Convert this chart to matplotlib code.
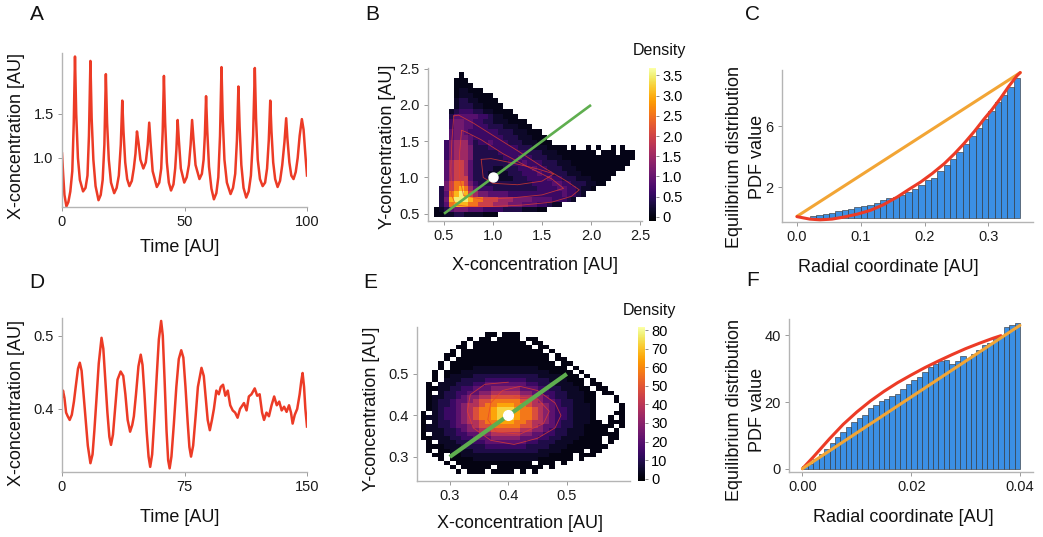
#!/usr/bin/env python3
"""Six-panel oscillator figure: time traces, phase-plane densities, radial PDFs."""
import numpy as np
import matplotlib
matplotlib.use('Agg')
import matplotlib.pyplot as plt

W, H = 1043, 537

RED = '#ec3b26'
ORANGE = '#f2a535'
GREEN = '#5fae4f'
BLUE = '#3b8fe4'
SPINE = '#b4b4b4'

# ---- panel A: X trace, limit-cycle regime ----
a_time = [0, 0.5, 1.0, 1.8, 2.6, 3.4, 4.2, 4.8, 5.3, 5.8, 6.5, 7.3, 8.6, 9.6, 10.4, 11.0,
          11.6, 12.1, 12.8, 13.7, 14.9, 15.8, 16.6, 17.3, 17.9, 18.4, 19.1, 20.0, 21.3,
          22.3, 23.2, 24.0, 24.6, 25.1, 25.8, 26.6, 27.5, 28.5, 29.3, 30.0, 30.6, 31.2,
          32.0, 33.2, 34.2, 35.0, 35.6, 36.2, 37.0, 38.7, 39.7, 40.5, 41.1, 41.6, 42.1,
          42.8, 43.6, 44.5, 45.5, 46.2, 46.7, 47.2, 47.7, 48.5, 49.9, 50.9, 51.8, 52.5,
          53.1, 53.7, 54.5, 56.1, 57.1, 57.8, 58.3, 58.8, 59.3, 60.0, 61.0, 62.0, 63.0,
          63.8, 64.5, 65.1, 65.6, 66.3, 67.3, 68.8, 69.8, 70.7, 71.4, 72.0, 72.5, 73.2,
          74.1, 75.2, 76.2, 77.1, 78.0, 78.7, 79.2, 79.9, 80.8, 81.9, 82.9, 83.7, 84.4,
          85.0, 85.5, 86.2, 87.0, 88.0, 89.0, 89.9, 90.8, 91.5, 92.0, 92.8, 93.6, 94.5,
          95.4, 96.2, 97.0, 97.9, 98.6, 99.3, 100]
a_conc = [1.05, 0.80, 0.58, 0.45, 0.50, 0.62, 0.85, 1.40, 2.15, 1.50, 1.00, 0.75, 0.62, 0.66, 0.80, 1.25,
          2.10, 1.45, 0.98, 0.68, 0.52, 0.58, 0.75, 1.15, 1.95, 1.40, 0.98, 0.72, 0.60,
          0.66, 0.80, 1.15, 1.65, 1.30, 0.95, 0.76, 0.68, 0.74, 0.88, 1.05, 1.30, 1.18,
          0.98, 0.88, 0.95, 1.15, 1.40, 1.15, 0.85, 0.67, 0.72, 0.88, 1.30, 1.93, 1.40,
          0.95, 0.72, 0.63, 0.70, 0.88, 1.10, 1.43, 1.20, 0.88, 0.72, 0.78, 0.92, 1.15,
          1.43, 1.20, 0.92, 0.76, 0.82, 0.98, 1.25, 1.70, 1.30, 0.90, 0.65, 0.53, 0.60,
          0.78, 1.25, 2.03, 1.45, 0.98, 0.72, 0.59, 0.66, 0.82, 1.20, 1.81, 1.35, 0.92,
          0.66, 0.55, 0.62, 0.80, 1.25, 2.02, 1.45, 0.98, 0.76, 0.68, 0.72, 0.88, 1.20,
          1.65, 1.30, 0.95, 0.76, 0.67, 0.74, 0.92, 1.18, 1.45, 1.22, 0.95, 0.80, 0.76,
          0.84, 1.00, 1.25, 1.44, 1.32, 1.05, 0.80]

# ---- panel D: X trace, noisy damped regime ----
d_time = [0, 0.6, 1.5, 2.5, 3.5, 4.7, 6.0, 7.3, 8.5, 9.8, 10.9, 12.0, 13.2, 14.5, 15.8,
          17.4, 18.7, 19.8, 21.0, 22.5, 24.2, 25.3, 26.5, 27.8, 29.0, 30.0, 31.2, 32.5,
          34.0, 35.9, 37.5, 38.8, 40.2, 41.7, 43.0, 44.0, 45.3, 46.8, 48.2, 49.3, 50.5,
          51.8, 53.0, 54.0, 55.2, 56.5, 58.0, 59.3, 60.7, 61.7, 62.8, 64.0, 65.0, 65.9,
          67.0, 68.5, 70.0, 71.5, 73.0, 74.3, 75.6, 77.0, 78.0, 79.0, 80.3, 81.8, 83.2,
          85.4, 86.8, 88.0, 89.2, 90.5, 91.8, 93.0, 94.5, 96.0, 97.2, 98.6, 100.0, 101.5,
          103.0, 104.5, 106.0, 107.5, 109.0, 111.4, 113.0, 114.4, 116.0, 118.0, 119.5,
          121.0, 122.5, 123.7, 125.2, 126.7, 128.3, 129.9, 131.5, 133.0, 134.5, 136.0,
          137.5, 139.0, 140.2, 141.2, 142.5, 144.0, 145.5, 146.5, 147.3, 148.2, 149.0, 150.0]
d_conc = [0.417, 0.425, 0.415, 0.395, 0.390, 0.385, 0.392, 0.410, 0.432, 0.455, 0.463, 0.452, 0.420, 0.385, 0.350,
          0.326, 0.338, 0.370, 0.410, 0.462, 0.497, 0.482, 0.440, 0.395, 0.362, 0.351, 0.365, 0.400,
          0.440, 0.451, 0.445, 0.420, 0.385, 0.369, 0.378, 0.390, 0.420, 0.458, 0.474, 0.460, 0.420,
          0.370, 0.335, 0.321, 0.338, 0.385, 0.445, 0.495, 0.520, 0.500, 0.440, 0.370, 0.330, 0.319,
          0.335, 0.380, 0.430, 0.468, 0.480, 0.470, 0.430, 0.380, 0.348, 0.335, 0.350, 0.390, 0.430,
          0.456, 0.445, 0.415, 0.385, 0.371, 0.385, 0.400, 0.425, 0.420, 0.430, 0.433, 0.418, 0.425,
          0.405, 0.398, 0.395, 0.388, 0.400, 0.408, 0.398, 0.417, 0.420, 0.428, 0.418,
          0.420, 0.395, 0.385, 0.395, 0.390, 0.405, 0.417, 0.405, 0.410, 0.398, 0.403,
          0.396, 0.405, 0.395, 0.380, 0.392, 0.400, 0.420, 0.438, 0.449, 0.430, 0.400, 0.376]

# ---- panel B: 2D histogram, rows top -> bottom, 41 x-bins on 0.40..2.45, 28 y-bins on 0.45..2.45
b_rows = [
    "..... 0.... ..... ..... ..... ..... ..... ..... .",
    "....0 00... ..... ..... ..... ..... ..... ..... .",
    "....0 000.. ..... ..... ..... ..... ..... ..... .",
    "....0 11000 ..... ..... ..... ..... ..... ..... .",
    "....0 11100 00... ..... ..... ..... ..... ..... .",
    "....1 22110 000.. ..... ..... ..... ..... ..... .",
    "....1 22211 0000. ..... ..... ..... ..... ..... .",
    "...12 33322 11000 0.... ..... ..... ..... ..... .",
    "...24 44443 32110 00... ..... ..... ..... ..... .",
    "...35 54433 22111 0000. ..... ..... ..... ..... .",
    "...35 54433 32221 11000 ..... ..... ..... ..... .",
    "...45 54333 33322 21110 00... ..... ..... ..... .",
    "...45 55433 33332 22111 000.. ..... ..... ..... .",
    "..356 66423 34333 22211 1000. ..... ..... ..... .",
    "..356 66522 23333 33222 11100 00.0. .0.0. .0.0. .",
    "..356 66522 22233 33332 22111 00000 000.0 00.00 0",
    "..356 66522 22223 33433 22211 10000 00000 00000 0",
    "..467 76422 22222 33343 33222 11100 00000 00000 .",
    "..467 76422 22112 22333 43322 21110 00000 0000. .",
    "..467 76422 21111 22233 34332 22111 00000 00... .",
    "..467 77422 21111 12223 33343 32221 11000 0.... .",
    "..578 87532 22222 22222 33334 43322 21100 ..... .",
    ".2578 98643 33222 22222 23333 44332 110.. ..... .",
    ".2489 A9765 54444 33333 33333 34332 1.... ..... .",
    ".259A AA988 77766 65555 44443 3321. ..... ..... .",
    ".2489 99887 77666 55544 43321 1.... ..... ..... .",
    "01245 55444 33332 22211 100.. ..... ..... ..... .",
    "00112 21111 000.. ..... ..... ..... ..... ..... .",
]
b_levels = {'0': 0.05, '1': 0.18, '2': 0.38, '3': 0.6, '4': 0.85, '5': 1.1,
            '6': 1.5, '7': 1.95, '8': 2.5, '9': 3.05, 'A': 3.5}
b_xrange = (0.40, 2.45)
b_yrange = (0.45, 2.45)
b_loops_x = [
    [0.60, 0.58, 0.57, 0.58, 0.62, 0.75, 1.00, 1.30, 1.60, 1.80, 1.88, 1.75, 1.50, 1.25, 1.00, 0.80, 0.65, 0.60],
    [0.68, 0.66, 0.66, 0.70, 0.90, 1.20, 1.50, 1.72, 1.60, 1.35, 1.10, 0.88, 0.72, 0.68],
    [0.88, 0.90, 1.00, 1.25, 1.50, 1.62, 1.45, 1.20, 0.98, 0.88],
]
b_loops_y = [
    [1.85, 1.50, 1.10, 0.75, 0.62, 0.60, 0.60, 0.62, 0.66, 0.74, 0.83, 0.95, 1.15, 1.37, 1.58, 1.75, 1.86, 1.85],
    [1.65, 1.35, 1.00, 0.75, 0.70, 0.72, 0.76, 0.85, 0.98, 1.15, 1.33, 1.52, 1.63, 1.65],
    [1.25, 1.00, 0.92, 0.90, 0.95, 1.05, 1.12, 1.20, 1.26, 1.25],
]

# ---- panel E: 2D histogram, rows top -> bottom, 35 x-bins on 0.25..0.60, 34 y-bins on 0.26..0.60
e_rows = [
    "..... ..... .00.0 00... ..... ..... .....",
    "..... ...0. 00.00 00.00 ..... ..... .....",
    "..... ..0.0 00000 000.0 0.... ..... .....",
    "..... .00.0 00000 0000. 00... ..... .....",
    "..... 0.000 00000 00000 0.0.. ..... .....",
    "....0 0.000 00000 00000 00.0. ..... .....",
    "....0 .0000 00000 00000 00.00 ..... .....",
    "...0. 00000 00000 00000 000.0 0.... .....",
    "...0. 00001 11111 11111 00000 .0... .....",
    "..0.0 00111 11111 11111 11000 0.0.. .....",
    "..0.0 11112 22222 22222 11110 00.0. .....",
    "..0.1 11222 23333 33322 22111 000.0 .....",
    ".0.11 12223 34444 44433 22211 100.0 0....",
    ".0011 22334 44555 55444 33221 1100. 00...",
    ".0.12 23344 55666 66554 43322 11100 .00..",
    ".0112 23455 66777 77665 54322 11100 ...0.",
    ".0122 34456 77888 88776 54432 21100 ...0.",
    ".0122 34566 78899 98876 65432 21110 ....0",
    ".0123 34567 889AA A9887 65433 21110 ....0",
    "0.123 34567 889AA A9887 65433 21110 ...00",
    "01123 34567 889AA A9887 65433 21110 ..0.0",
    "0.122 34566 78899 98876 65432 21110 0.000",
    "01122 34456 77888 88776 54432 21100 000.0",
    "01112 23455 66777 77665 54322 11100 00.0.",
    "0.112 23344 55666 66554 43322 11100 0000.",
    "00111 22334 44555 55444 33221 11000 0.00.",
    ".0.11 12223 34444 44433 22211 10000 0.0..",
    ".0001 11222 23333 33322 22111 00000 00...",
    ".0.00 11112 22222 22222 11110 000.0 0....",
    "..00. 00111 11111 11111 11000 0.000 .....",
    "...0. 00001 11111 11111 00000 0.0.. .....",
    "....0 .0000 00000 0000. 000.0 ..... .....",
    "..... 0.000 00.00 00000 0.0.. ..... .....",
    "..... .0.00 0.000 0.0.0 ..... ..... .....",
]
e_levels = {'0': 1.5, '1': 4.5, '2': 9, '3': 14, '4': 21, '5': 29,
            '6': 38, '7': 48, '8': 57, '9': 65, 'A': 73}
e_xrange = (0.25, 0.60)
e_yrange = (0.26, 0.60)
e_loop_x = [0.40, 0.36, 0.335, 0.33, 0.34, 0.37, 0.41, 0.45, 0.48, 0.49, 0.48, 0.45,
            0.42, 0.39, 0.37, 0.365, 0.38, 0.42, 0.46, 0.47, 0.45, 0.41]
e_loop_y = [0.48, 0.475, 0.45, 0.41, 0.37, 0.34, 0.33, 0.345, 0.37, 0.40, 0.43, 0.46,
            0.47, 0.46, 0.43, 0.39, 0.36, 0.355, 0.38, 0.41, 0.44, 0.445]

# ---- panel C: radial PDF, limit cycle ----
c_heights = [0.13, 0.21, 0.28, 0.35, 0.43, 0.49, 0.58, 0.68, 0.77, 0.87, 0.98, 1.17,
             1.28, 1.38, 1.50, 1.66, 1.86, 2.15, 2.45, 2.60, 3.07, 3.44, 3.86, 4.31,
             4.80, 5.35, 5.90, 6.45, 7.00, 7.55, 8.05, 8.55, 9.15]
c_edges = np.round(np.arange(0.02, 0.3501, 0.01), 3)
c_fit_r = [0, 0.02, 0.036, 0.055, 0.073, 0.095, 0.115, 0.135, 0.157, 0.175, 0.194,
           0.212, 0.231, 0.247, 0.262, 0.278, 0.293, 0.306, 0.319, 0.332, 0.345, 0.35]
c_fit_p = [0.08, -0.08, -0.13, -0.08, 0.05, 0.25, 0.49, 0.85, 1.36, 1.85, 2.35,
           2.90, 3.55, 4.20, 4.87, 5.65, 6.45, 7.10, 7.82, 8.60, 9.30, 9.50]
c_lin_r = [0.0, 0.35]
c_lin_p = [0.1, 9.5]

# ---- panel F: radial PDF, noisy focus ----
f_heights = [0.7, 1.5, 2.9, 4.5, 6.0, 7.7, 9.5, 11.0, 12.5, 14.0, 15.2, 16.2, 18.2,
             19.2, 20.2, 20.9, 21.7, 22.5, 23.9, 25.5, 26.7, 27.4, 28.9, 30.5, 31.4,
             32.2, 32.7, 31.5, 32.2, 33.7, 32.9, 34.5, 35.5, 37.0, 37.7, 39.2, 40.2,
             42.5, 43.2, 43.7]
f_edges = np.round(np.arange(0.0, 0.04001, 0.001), 4)
f_fit_r = [0, 0.002, 0.005, 0.0075, 0.01, 0.0125, 0.015, 0.0175, 0.02, 0.0225,
           0.025, 0.0275, 0.03, 0.0325, 0.035, 0.0365]
f_fit_p = [0, 3.5, 9.0, 13.3, 17.0, 20.3, 23.2, 25.8, 28.1, 30.3, 32.3, 34.2,
           36.0, 37.6, 39.1, 39.9]
f_lin_r = [0.0, 0.04]
f_lin_p = [0.0, 43.0]


def add_axes(fig, l, t, r, b):
    return fig.add_axes([l / W, 1 - b / H, (r - l) / W, (b - t) / H])


def put(fig, x, y, s, **kw):
    kw.setdefault('ha', 'center')
    kw.setdefault('va', 'center')
    fig.text(x / W, 1 - y / H, s, **kw)


def style(ax):
    for side in ('top', 'right'):
        ax.spines[side].set_visible(False)
    for side in ('left', 'bottom'):
        ax.spines[side].set_color(SPINE)
        ax.spines[side].set_linewidth(1.0)
    ax.tick_params(direction='out', length=3, width=0.7, color='#9a9a9a',
                   labelsize=10.5, labelcolor='#1a1a1a', pad=3)


def grid(rows, levels):
    arr = np.array([[levels.get(ch, np.nan) for ch in r.replace(' ', '')] for r in rows])
    return np.ma.masked_invalid(arr[::-1])


def density_panel(fig, rect, cbrect, rows, levels, xr, yr, vlim, cticks, clabels):
    ax = add_axes(fig, *rect)
    z = grid(rows, levels)
    xe = np.linspace(xr[0], xr[1], z.shape[1] + 1)
    ye = np.linspace(yr[0], yr[1], z.shape[0] + 1)
    mesh = ax.pcolormesh(xe, ye, z, cmap='inferno', vmin=vlim[0], vmax=vlim[1],
                         shading='flat', edgecolors='none', antialiased=False)
    cax = add_axes(fig, *cbrect)
    cb = fig.colorbar(mesh, cax=cax, ticks=cticks)
    cb.set_ticklabels(clabels)
    cb.outline.set_visible(False)
    cax.tick_params(labelsize=10.5, length=2.5, width=0.6, color='#777777', pad=2)
    return ax


def main():
    plt.rcParams.update({
        'font.family': ['Liberation Sans', 'DejaVu Sans'],
        'font.size': 10.5,
    })
    fig = plt.figure(figsize=(W / 100, H / 100), dpi=100)
    lab = dict(fontsize=13, color='#111111')

    # A
    ax = add_axes(fig, 62, 53, 307, 207)
    ax.plot(a_time, a_conc, color=RED, lw=1.8)
    ax.set_xlim(0, 100)
    ax.set_ylim(0.443, 2.19)
    ax.set_xticks([0, 50, 100])
    ax.set_yticks([1.0, 1.5])
    ax.set_yticklabels(['1.0', '1.5'])
    style(ax)
    put(fig, 180, 248, 'Time [AU]', **lab)
    put(fig, 17, 136, 'X-concentration [AU]', rotation=90, **lab)

    # D
    ax = add_axes(fig, 62, 318, 307, 472)
    ax.plot(d_time, d_conc, color=RED, lw=1.8)
    ax.set_xlim(0, 150)
    ax.set_ylim(0.314, 0.524)
    ax.set_xticks([0, 75, 150])
    ax.set_yticks([0.4, 0.5])
    ax.set_yticklabels(['0.4', '0.5'])
    style(ax)
    put(fig, 180, 517, 'Time [AU]', **lab)
    put(fig, 17, 403, 'X-concentration [AU]', rotation=90, **lab)

    # B
    ax = density_panel(fig, (428, 68, 642, 221), (649, 68, 656, 221), b_rows, b_levels,
                       b_xrange, b_yrange, (-0.1, 3.68),
                       [0, 0.5, 1.0, 1.5, 2.0, 2.5, 3.0, 3.5],
                       ['0', '0.5', '1.0', '1.5', '2.0', '2.5', '3.0', '3.5'])
    for lx, ly in zip(b_loops_x, b_loops_y):
        ax.plot(lx, ly, color='#e8402c', lw=0.6, alpha=0.75, zorder=3)
    ax.plot([0.5, 2.0], [0.5, 2.0], color=GREEN, lw=1.9, zorder=4, solid_capstyle='butt')
    ax.plot([1.0], [1.0], 'o', ms=6.5, color='white', mec='white', zorder=5)
    ax.set_xlim(0.337, 2.52)
    ax.set_ylim(0.40, 2.51)
    ax.set_xticks([0.5, 1.0, 1.5, 2.0, 2.5])
    ax.set_xticklabels(['0.5', '1.0', '1.5', '2.0', '2.5'])
    ax.set_yticks([0.5, 1.0, 1.5, 2.0, 2.5])
    ax.set_yticklabels(['0.5', '1.0', '1.5', '2.0', '2.5'])
    style(ax)
    put(fig, 535, 265, 'X-concentration [AU]', **lab)
    put(fig, 387, 147, 'Y-concentration [AU]', rotation=90, **lab)
    put(fig, 659, 50, 'Density', fontsize=11.5, color='#111111')

    # E
    ax = density_panel(fig, (417, 327, 630, 481), (638, 327, 645, 481), e_rows, e_levels,
                       e_xrange, e_yrange, (-1.3, 81.8),
                       [0, 10, 20, 30, 40, 50, 60, 70, 80],
                       ['0', '10', '20', '30', '40', '50', '60', '70', '80'])
    ax.plot(e_loop_x, e_loop_y, color='#e8402c', lw=0.6, alpha=0.75, zorder=3)
    ax.plot([0.3, 0.5], [0.3, 0.5], color=GREEN, lw=3.0, zorder=4, solid_capstyle='butt')
    ax.plot([0.4], [0.4], 'o', ms=7, color='white', mec='white', zorder=5)
    ax.set_xlim(0.244, 0.608)
    ax.set_ylim(0.242, 0.613)
    ax.set_xticks([0.3, 0.4, 0.5])
    ax.set_xticklabels(['0.3', '0.4', '0.5'])
    ax.set_yticks([0.3, 0.4, 0.5])
    ax.set_yticklabels(['0.3', '0.4', '0.5'])
    style(ax)
    put(fig, 520, 523, 'X-concentration [AU]', **lab)
    put(fig, 372, 409, 'Y-concentration [AU]', rotation=90, **lab)
    put(fig, 649, 310, 'Density', fontsize=11.5, color='#111111')

    # C
    ax = add_axes(fig, 782, 70, 1033, 222)
    ax.bar(c_edges[:-1], c_heights, width=np.diff(c_edges), align='edge',
           color=BLUE, edgecolor='#2b2b2b', linewidth=0.4)
    ax.plot(c_lin_r, c_lin_p, color=ORANGE, lw=2.2, solid_capstyle='round')
    ax.plot(c_fit_r, c_fit_p, color=RED, lw=2.2, solid_capstyle='round')
    ax.set_xlim(-0.0235, 0.370)
    ax.set_ylim(-0.27, 9.67)
    ax.set_xticks([0.0, 0.1, 0.2, 0.3])
    ax.set_xticklabels(['0.0', '0.1', '0.2', '0.3'])
    ax.set_yticks([2, 6])
    style(ax)
    put(fig, 888, 267, 'Radial coordinate [AU]', **lab)
    put(fig, 746, 157, 'Equilibrium distribution\nPDF value', rotation=90,
        linespacing=1.45, multialignment='center', **lab)

    # F
    ax = add_axes(fig, 789, 319, 1033, 472)
    ax.bar(f_edges[:-1], f_heights, width=np.diff(f_edges), align='edge',
           color=BLUE, edgecolor='#2b2b2b', linewidth=0.4)
    ax.plot(f_fit_r, f_fit_p, color=RED, lw=2.2, solid_capstyle='round')
    ax.plot(f_lin_r, f_lin_p, color=ORANGE, lw=2.2, solid_capstyle='round')
    ax.set_xlim(-0.00247, 0.0424)
    ax.set_ylim(-1.0, 44.9)
    ax.set_xticks([0.0, 0.02, 0.04])
    ax.set_xticklabels(['0.00', '0.02', '0.04'])
    ax.set_yticks([0, 20, 40])
    style(ax)
    put(fig, 903, 517, 'Radial coordinate [AU]', **lab)
    put(fig, 746, 410, 'Equilibrium distribution\nPDF value', rotation=90,
        linespacing=1.45, multialignment='center', **lab)

    for letter, x, y in [('A', 37, 15), ('B', 372, 15), ('C', 753, 15),
                         ('D', 37, 283), ('E', 370, 283), ('F', 753, 280)]:
        put(fig, x, y, letter, fontsize=15, color='#111111')

    fig.savefig('out.png', dpi=100, facecolor='white')


if __name__ == '__main__':
    main()
